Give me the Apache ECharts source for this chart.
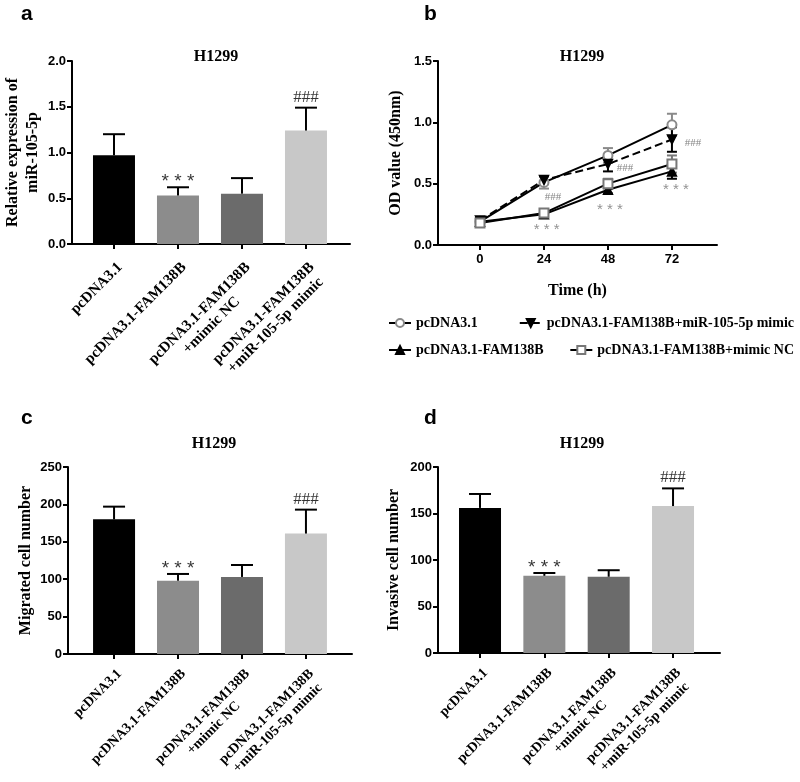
<!DOCTYPE html>
<html>
<head>
<meta charset="utf-8">
<script src="https://cdn.jsdelivr.net/npm/echarts@6/dist/echarts.min.js"></script>
<style>
  html, body { margin: 0; padding: 0; background: #fff; }
  #chart { width: 800px; height: 782px; }
</style>
</head>
<body>
<div id="chart"></div>
<script>
// groups shown on the bar panels (a, c, d)
var groups = ['pcDNA3.1', 'pcDNA3.1-FAM138B', 'pcDNA3.1-FAM138B\n+mimic NC', 'pcDNA3.1-FAM138B\n+miR-105-5p mimic']
var groupColors = ['#000000', '#8c8c8c', '#6b6b6b', '#c8c8c8']
var groupSig = ['', '***', '', '###']

// a: relative expression
var relExpr = [0.97, 0.53, 0.55, 1.24]
var relExprErr = [0.23, 0.09, 0.17, 0.25]

// c: migrated cells, d: invasive cells
var migrated = [180, 98, 103, 161]
var migratedErr = [17, 9, 16, 32]
var invasive = [156, 83, 82, 158]
var invasiveErr = [15, 3, 7, 19]

// b: OD value over time
var timePoints = [0, 24, 48, 72]
var odCtrl = [0.19, 0.51, 0.73, 0.98]
var odCtrlErr = [0.02, 0.05, 0.06, 0.09]
var odFam = [0.19, 0.25, 0.45, 0.60]
var odFamErr = [0.02, 0.02, 0.03, 0.06]
var odMimic = [0.20, 0.53, 0.66, 0.86]
var odMimicErr = [0.02, 0.03, 0.06, 0.10]
var odNC = [0.18, 0.26, 0.50, 0.66]
var odNCErr = [0.02, 0.02, 0.04, 0.07]
var odNotes = [
  { x: 27.4, y: 0.39, text: '###' },
  { x: 54.4, y: 0.63, text: '###' },
  { x: 79.9, y: 0.83, text: '###' },
  { x: 25, y: 0.12, text: '***' },
  { x: 48.75, y: 0.29, text: '***' },
  { x: 73.5, y: 0.45, text: '***' }
]

var serif = 'Liberation Serif'
var sans = 'Liberation Sans'
var black = '#000'

function errRender(capHalf, both) {
  return function(params, api) {
    var x = api.value(0)
    var y = api.value(1)
    var e = api.value(2)
    var top = api.coord([x, y + e])
    var bot = api.coord([x, both ? y - e : y])
    var color = api.visual('color')
    var st = { stroke: color, lineWidth: 2 }
    var kids = [
      { type: 'line', shape: { x1: top[0], y1: top[1], x2: bot[0], y2: bot[1] }, style: st },
      { type: 'line', shape: { x1: top[0] - capHalf, y1: top[1], x2: top[0] + capHalf, y2: top[1] }, style: st }
    ]
    if (both) {
      kids.push({ type: 'line', shape: { x1: bot[0] - capHalf, y1: bot[1], x2: bot[0] + capHalf, y2: bot[1] }, style: st })
    }
    return { type: 'group', children: kids }
  }
}

function yAxisOf(idx, max, interval, name, gap, decimals) {
  return {
    type: 'value', gridIndex: idx, min: 0, max: max, interval: interval,
    name: name, nameLocation: 'middle', nameGap: gap,
    nameTextStyle: { fontFamily: serif, fontWeight: 'bold', fontSize: 16, color: black, lineHeight: 20 },
    axisLine: { show: true, onZero: false, lineStyle: { color: black, width: 2 } },
    axisTick: { show: true, length: 5, lineStyle: { color: black, width: 2 } },
    axisLabel: {
      fontFamily: sans, fontWeight: 'bold', fontSize: 13, color: black, margin: 6,
      formatter: function(v) { return v.toFixed(decimals) }
    },
    splitLine: { show: false }
  }
}

function groupAxisOf(idx, min, max, size, margin) {
  return {
    type: 'value', gridIndex: idx, min: min, max: max,
    axisLine: { show: true, onZero: false, lineStyle: { color: black, width: 2 } },
    axisTick: { show: true, length: 5, customValues: [0, 1, 2, 3], lineStyle: { color: black, width: 2 } },
    axisLabel: {
      customValues: [0, 1, 2, 3], rotate: 45, margin: margin, verticalAlign: 'top',
      fontFamily: serif, fontWeight: 'bold', fontSize: size, color: black,
      formatter: function(v) {
        return groups[Math.round(v)].split('\n').map(function(s) { return '{c|' + s + '}' }).join('\n')
      },
      rich: {
        c: {
          align: 'center', fontFamily: serif, fontWeight: 'bold',
          fontSize: size, color: black, lineHeight: size + 2
        }
      }
    },
    splitLine: { show: false }
  }
}

function barSeries(idx, values, errs) {
  return [{
    type: 'bar', xAxisIndex: idx, yAxisIndex: idx, barWidth: 42,
    data: values.map(function(v, i) {
      return { value: [i, v], itemStyle: { color: groupColors[i] } }
    })
  }, {
    type: 'custom', xAxisIndex: idx, yAxisIndex: idx, z: 3,
    itemStyle: { color: black },
    renderItem: errRender(11, false),
    data: values.map(function(v, i) { return [i, v, errs[i]] })
  }, {
    type: 'scatter', xAxisIndex: idx, yAxisIndex: idx, symbolSize: 0, silent: true,
    data: values.map(function(v, i) { return { value: [i, v + errs[i]], name: groupSig[i] } }),
    label: {
      show: true, position: 'top', distance: 2,
      formatter: function(p) {
        if (p.name === '###') return '{h|###}'
        if (p.name === '***') return '{s|* * *}'
        return ''
      },
      rich: {
        h: { fontFamily: serif, fontSize: 17, color: black },
        s: { fontFamily: sans, fontSize: 19, color: black, padding: [0, 0, -6, 0] }
      }
    }
  }]
}

function odSeries(name, values, errs, symbol, rotate, markColor, dashed) {
  return [{
    name: name, type: 'line', xAxisIndex: 1, yAxisIndex: 1,
    symbol: symbol, symbolSize: 9, symbolRotate: rotate, z: 4,
    lineStyle: { color: black, width: 2, type: dashed ? 'dashed' : 'solid' },
    itemStyle: { color: markColor, borderColor: markColor, borderWidth: 1.5 },
    data: timePoints.map(function(t, i) { return [t, values[i]] })
  }, {
    type: 'custom', xAxisIndex: 1, yAxisIndex: 1, z: 3,
    itemStyle: { color: markColor },
    renderItem: errRender(5, true),
    data: timePoints.map(function(t, i) { return [t, values[i], errs[i]] })
  }]
}

var chart = echarts.init(document.getElementById('chart'))

var legendText = { fontFamily: serif, fontWeight: 'bold', fontSize: 14, color: black }
function legendOf(item, pos) {
  return Object.assign({
    data: [item], itemWidth: 22, itemHeight: 10, itemGap: 5,
    textStyle: legendText, selectedMode: false
  }, pos)
}

var series = []
series = series.concat(barSeries(0, relExpr, relExprErr))
series = series.concat(odSeries('pcDNA3.1', odCtrl, odCtrlErr, 'emptyCircle', 0, '#8a8a8a', false))
series = series.concat(odSeries('pcDNA3.1-FAM138B', odFam, odFamErr, 'triangle', 0, black, false))
series = series.concat(odSeries('pcDNA3.1-FAM138B+miR-105-5p mimic', odMimic, odMimicErr, 'triangle', 180, black, true))
series = series.concat(odSeries('pcDNA3.1-FAM138B+mimic NC', odNC, odNCErr, 'emptyRect', 0, '#777777', false))
series.push({
  type: 'scatter', xAxisIndex: 1, yAxisIndex: 1, symbolSize: 0, silent: true,
  data: odNotes.map(function(n) { return { value: [n.x, n.y], name: n.text } }),
  label: {
    show: true, position: 'inside',
    formatter: function(p) {
      return p.name === '###' ? '{h|###}' : '{s|* * *}'
    },
    rich: {
      h: { fontFamily: serif, fontSize: 11, color: '#666' },
      s: { fontFamily: sans, fontSize: 15, color: '#777' }
    }
  }
})
series = series.concat(barSeries(2, migrated, migratedErr))
series = series.concat(barSeries(3, invasive, invasiveErr))

var option = {
  backgroundColor: '#fff',
  animation: false,
  title: [
    { text: 'H1299', left: 211, top: 44, textAlign: 'center' },
    { text: 'H1299', left: 577, top: 44, textAlign: 'center' },
    { text: 'H1299', left: 209, top: 431, textAlign: 'center' },
    { text: 'H1299', left: 577, top: 431, textAlign: 'center' }
  ].map(function(t) {
    t.textStyle = { fontFamily: serif, fontWeight: 'bold', fontSize: 16, color: black }
    return t
  }),
  graphic: [
    { type: 'text', left: 21, top: 4, style: { text: 'a', font: 'bold 21px Liberation Sans', fill: black } },
    { type: 'text', left: 424, top: 4, style: { text: 'b', font: 'bold 21px Liberation Sans', fill: black } },
    { type: 'text', left: 21, top: 408, style: { text: 'c', font: 'bold 21px Liberation Sans', fill: black } },
    { type: 'text', left: 424, top: 408, style: { text: 'd', font: 'bold 21px Liberation Sans', fill: black } }
  ],
  legend: [
    legendOf('pcDNA3.1', { left: 383, top: 311 }),
    legendOf('pcDNA3.1-FAM138B+miR-105-5p mimic', { right: 1, top: 311 }),
    legendOf('pcDNA3.1-FAM138B', { left: 383, top: 338 }),
    legendOf('pcDNA3.1-FAM138B+mimic NC', { right: 1, top: 338 })
  ],
  grid: [
    { left: 72, top: 61, width: 278, height: 183, outerBoundsMode: 'none' },
    { left: 438, top: 61, width: 279, height: 184, outerBoundsMode: 'none' },
    { left: 68, top: 467, width: 284, height: 187, outerBoundsMode: 'none' },
    { left: 438, top: 467, width: 282, height: 186, outerBoundsMode: 'none' }
  ],
  xAxis: [
    groupAxisOf(0, -0.656, 3.688, 15, 15),
    {
      type: 'value', gridIndex: 1, min: -15.75, max: 88.9,
      name: 'Time (h)', nameLocation: 'middle', nameGap: 38,
      nameTextStyle: { fontFamily: serif, fontWeight: 'bold', fontSize: 16, color: black },
      axisLine: { show: true, onZero: false, lineStyle: { color: black, width: 2 } },
      axisTick: { show: true, length: 5, customValues: timePoints, lineStyle: { color: black, width: 2 } },
      axisLabel: { customValues: timePoints, fontFamily: sans, fontWeight: 'bold', fontSize: 13, color: black, margin: 8 },
      splitLine: { show: false }
    },
    groupAxisOf(2, -0.72, 3.72, 14, 12),
    groupAxisOf(3, -0.653, 3.73, 14, 12)
  ],
  yAxis: [
    yAxisOf(0, 2, 0.5, 'Relative expression of\nmiR-105-5p', 29, 1),
    yAxisOf(1, 1.5, 0.5, 'OD value (450nm)', 32, 1),
    yAxisOf(2, 250, 50, 'Migrated cell number', 32, 0),
    yAxisOf(3, 200, 50, 'Invasive cell number', 34, 0)
  ],
  series: series
}

chart.setOption(option)
</script>
</body>
</html>
